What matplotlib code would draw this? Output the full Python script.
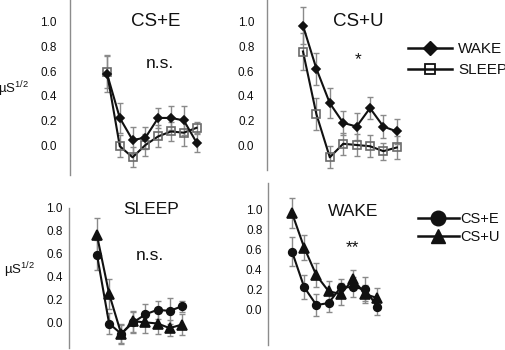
import matplotlib
matplotlib.use("Agg")
import matplotlib.pyplot as plt
from matplotlib.lines import Line2D
import numpy as np

plt.rcParams["font.family"] = ["Liberation Sans", "DejaVu Sans"]
plt.rcParams["mathtext.default"] = "regular"

# trial number 1..8
trials = [1, 2, 3, 4, 5, 6, 7, 8]

# skin conductance (uS^1/2)
wake_cse = [0.58, 0.22, 0.04, 0.06, 0.22, 0.22, 0.20, 0.02]
wake_cse_err = [0.15, 0.12, 0.11, 0.09, 0.08, 0.10, 0.12, 0.08]
sleep_cse = [0.59, -0.01, -0.10, 0.00, 0.07, 0.11, 0.10, 0.14]
sleep_cse_err = [0.13, 0.09, 0.08, 0.09, 0.09, 0.08, 0.11, 0.05]
wake_csu = [0.97, 0.62, 0.34, 0.18, 0.15, 0.30, 0.15, 0.11]
wake_csu_err = [0.15, 0.13, 0.12, 0.10, 0.11, 0.09, 0.09, 0.10]
sleep_csu = [0.76, 0.25, -0.10, 0.01, 0.00, -0.01, -0.05, -0.02]
sleep_csu_err = [0.15, 0.13, 0.09, 0.09, 0.09, 0.09, 0.07, 0.09]

yticks = [0.0, 0.2, 0.4, 0.6, 0.8, 1.0]

W, H = 506, 350
fig = plt.figure(figsize=(W / 100, H / 100), dpi=100)

TXT = "#111111"
ERR = "#8a8a8a"


def px_axes(ax_x, first_x, step, right_x, y0, y1, top, bottom, pad):
    """axes placed by pixel positions; y0/y1 = pixel rows of 0.0 and 1.0"""
    ax = fig.add_axes([ax_x / W, 1 - bottom / H, (right_x - ax_x) / W, (bottom - top) / H])
    per = y0 - y1
    ax.set_ylim((y0 - bottom) / per, (y0 - top) / per)
    ax.set_xlim(1 - (first_x - ax_x) / step, 1 + (right_x - first_x) / step)
    for s in ["top", "right", "bottom"]:
        ax.spines[s].set_visible(False)
    ax.spines["left"].set_color("#8c8c8c")
    ax.spines["left"].set_linewidth(1.0)
    ax.set_xticks([])
    ax.set_yticks(yticks)
    ax.set_yticklabels([f"{t:.1f}" for t in yticks])
    ax.tick_params(axis="y", length=0, pad=pad, labelsize=8.5, labelcolor=TXT)
    ax.patch.set_alpha(0)
    return ax


def series(ax, y, err, marker, ms, mfc, mec):
    ax.errorbar(trials, y, yerr=err, fmt="none", ecolor=ERR, elinewidth=1.0,
                capsize=2.2, capthick=1.0, zorder=1)
    ax.plot(trials, y, color="#111111", lw=1.5, marker=marker, ms=ms,
            mfc=mfc, mec=mec, mew=1.2, zorder=3)


def ftext(x, y, s, size, **kw):
    fig.text(x / W, 1 - y / H, s, fontsize=size, color=TXT, ha="center", va="center", **kw)


# top-left: CS+E
ax1 = px_axes(70, 107, 12.8, 210, 145, 22, 0, 175, 9.5)
series(ax1, sleep_cse, sleep_cse_err, "s", 6, "none", "#6a6a6a")
series(ax1, wake_cse, wake_cse_err, "D", 4.5, "#111111", "#111111")

# top-right: CS+U
ax2 = px_axes(267, 303, 13.4, 410, 145, 22, 0, 170, 9)
series(ax2, sleep_csu, sleep_csu_err, "s", 6, "none", "#6a6a6a")
series(ax2, wake_csu, wake_csu_err, "D", 4.5, "#111111", "#111111")

# bottom-left: SLEEP
ax3 = px_axes(69, 97, 12.1, 200, 322, 206, 208, 348, 4.5)
series(ax3, sleep_cse, sleep_cse_err, "o", 5.5, "#111111", "#111111")
series(ax3, sleep_csu, sleep_csu_err, "^", 6.5, "#111111", "#111111")

# bottom-right: WAKE
ax4 = px_axes(268, 292, 12.2, 400, 309, 210, 183, 345, 4)
series(ax4, wake_cse, wake_cse_err, "o", 5.5, "#111111", "#111111")
series(ax4, wake_csu, wake_csu_err, "^", 6.5, "#111111", "#111111")

# panel titles and stats
ftext(156, 22, "CS+E", 13.5)
ftext(160, 63, "n.s.", 12.5)
ftext(358, 22, "CS+U", 13.5)
ftext(358, 60, "*", 12.5)
ftext(151, 209, "SLEEP", 12.5)
ftext(150, 255, "n.s.", 12.5)
ftext(353, 211, "WAKE", 12.5)
ftext(352, 248, "**", 12.5)

# y labels
ftext(14, 89, r"µS$^{1/2}$", 9.5)
ftext(20, 270, r"µS$^{1/2}$", 9.5)

# legends
top_handles = [
    Line2D([], [], color="#111111", lw=1.8, marker="D", ms=7.5, mfc="#111111", mec="#111111"),
    Line2D([], [], color="#111111", lw=1.8, marker="s", ms=7.5, mfc="none", mec="#111111", mew=1.3),
]
fig.legend(top_handles, ["WAKE", "SLEEP"], loc="upper left",
           bbox_to_anchor=(408 / W, 1 - 42 / H), frameon=False, fontsize=11,
           handlelength=2.85, handletextpad=0.45, labelspacing=0.45,
           borderpad=0, borderaxespad=0, labelcolor=TXT)

bot_handles = [
    Line2D([], [], color="#111111", lw=1.8, marker="o", ms=10.5, mfc="#111111", mec="#111111"),
    Line2D([], [], color="#111111", lw=1.8, marker="^", ms=10.5, mfc="#111111", mec="#111111"),
]
fig.legend(bot_handles, ["CS+E", "CS+U"], loc="upper left",
           bbox_to_anchor=(418 / W, 1 - 212 / H), frameon=False, fontsize=10.5,
           handlelength=2.8, handletextpad=0.1, labelspacing=0.3,
           borderpad=0, borderaxespad=0, labelcolor=TXT)

fig.savefig("out.png", dpi=100, facecolor="white")
